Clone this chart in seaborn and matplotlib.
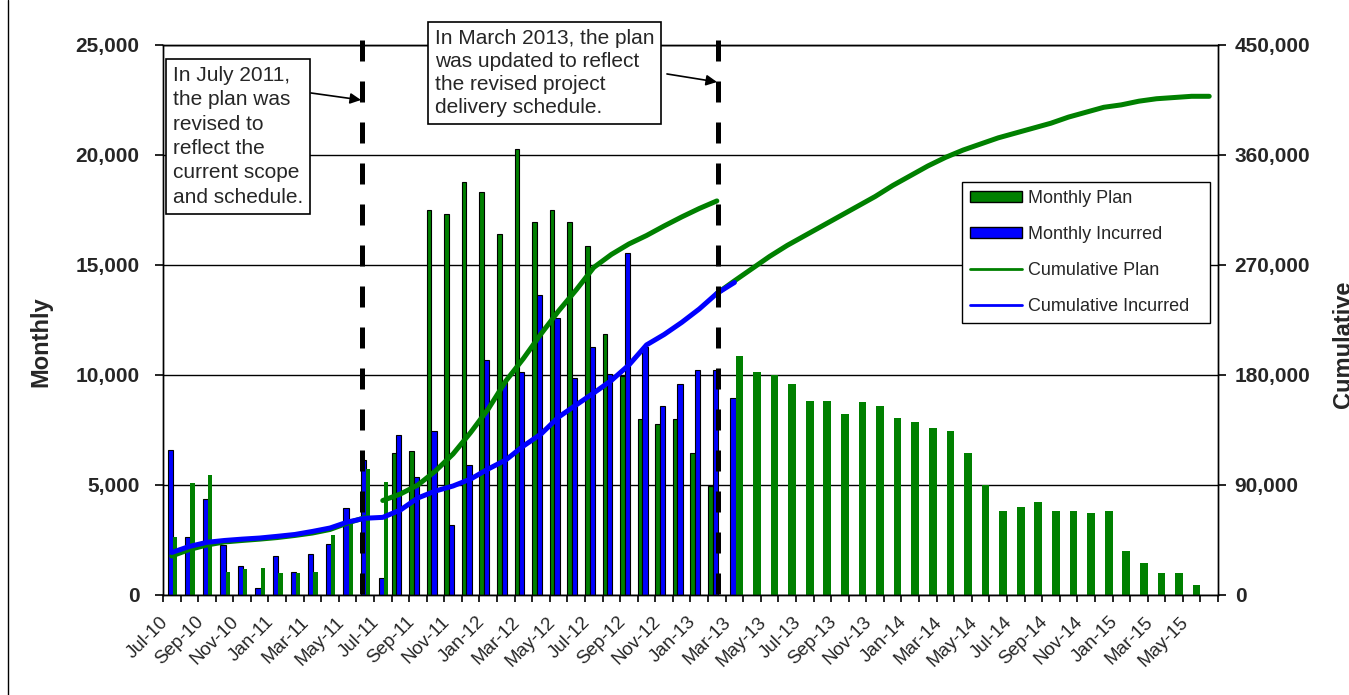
import numpy as np
import pandas as pd
import matplotlib.pyplot as plt
import matplotlib.transforms as mtransforms
import seaborn as sns
from matplotlib.lines import Line2D
from matplotlib.patches import Patch

sns.set_style("white")
plt.rcParams["font.family"] = ["Liberation Sans", "DejaVu Sans"]

# --- data ---
months = pd.date_range("2010-07-01", "2015-06-01", freq="MS").strftime("%b-%y").tolist()

# monthly values
plan_original = [2640, 5090, 5450, 1060, 1170, 1240, 980, 980, 1060, 2730, 3300, 5710, 5150]  # Jul-10 .. Jul-11
plan_revised = [6450, 6530, 17490, 17320, 18790, 18330, 16400, 20250, 16940, 17490,
                16940, 15840, 11870, 9960, 8020, 7750, 8020, 6450, 4970]  # Aug-11 .. Feb-13
plan_current = [10860, 10120, 10000, 9575, 8830, 8830, 8210, 8760, 8575, 8030, 7850, 7575, 7470,
                6470, 5000, 3840, 4020, 4210, 3840, 3840, 3730, 3840, 2000, 1450, 990, 990, 460]  # Mar-13 .. May-15
incurred = [6590, 2640, 4360, 2270, 1320, 320, 1770, 1030, 1860, 2320, 3970, 6140, 760,
            7290, 5380, 7440, 3200, 5910, 10680, 9700, 10140, 13630, 12600, 9880, 11260,
            10040, 15530, 11260, 8590, 9580, 10240, 10240, 8970]  # Jul-10 .. Mar-13

# cumulative values
cum_plan_original = [31900, 37200, 40900, 43400, 44600, 45700, 47000, 48700, 50700, 53600,
                     58900, 63400]  # Jul-10 .. Jun-11
cum_plan_revised = [77300, 82600, 90000, 101500, 115400, 133000, 152200, 175100, 193500, 213600,
                    232400, 249600, 268000, 278600, 287200, 294100, 301900, 309300, 316200, 322400]  # Jul-11 .. Feb-13
cum_plan_current = [246700, 257000, 267000, 277000, 286000, 294000, 302000, 310000, 318000, 326000,
                    335000, 343000, 351000, 358000, 364000, 369000, 374000, 378000, 382000, 386000,
                    391000, 395000, 399000, 401000, 404000, 406000, 407000, 408000, 408000]  # Feb-13 .. Jun-15
cum_incurred = [34800, 39700, 43100, 44600, 45700, 46600, 48000, 49500, 52000, 54800, 59700,
                62800, 63500, 69500, 79400, 85100, 89200, 94900, 103100, 110500, 121900, 131700,
                145600, 155500, 165300, 175500, 188200, 204600, 213100, 223000, 234000, 246700,
                255700]  # Jul-10 .. Mar-13

GREEN = "#008000"
BLUE = "#0000FF"

fig = plt.figure(figsize=(13.49, 6.95), dpi=100)
ax = fig.add_axes([0.1208, 0.1439, 0.7821, 0.7914])
ax2 = ax.twinx()

# --- monthly bars (offset / width inside each month slot) ---
bar_series = [
    (plan_revised, "Aug-11", -0.37, 0.26, GREEN, 0.8),
    (incurred, "Jul-10", -0.09, 0.30, BLUE, 0.8),
    (plan_original, "Jul-10", 0.18, 0.24, GREEN, 0),
    (plan_current, "Mar-13", 0.28, 0.44, GREEN, 0),
]
for vals, start, off, w, col, lw in bar_series:
    i0 = months.index(start)
    pos = np.arange(i0, i0 + len(vals)) + off
    sns.barplot(x=pos, y=vals, native_scale=True, orient="x", width=w, color=col,
                edgecolor="black", linewidth=lw, saturation=1, errorbar=None, ax=ax)

# --- cumulative lines ---
line_series = [
    (cum_plan_original, "Jul-10", GREEN),
    (cum_plan_revised, "Jul-11", GREEN),
    (cum_plan_current, "Feb-13", GREEN),
    (cum_incurred, "Jul-10", BLUE),
]
for vals, start, col in line_series:
    i0 = months.index(start)
    pos = np.arange(i0, i0 + len(vals))
    sns.lineplot(x=pos, y=vals, color=col, linewidth=3.6, estimator=None,
                 solid_capstyle="round", ax=ax2)

# --- axes ---
ax.set_xlim(-0.5, len(months) - 0.5)
ax.set_ylim(0, 25000)
ax2.set_ylim(0, 450000)

left_ticks = np.arange(0, 25001, 5000)
right_ticks = np.arange(0, 450001, 90000)
ax.set_yticks(left_ticks, labels=[f"{v:,}" for v in left_ticks], fontsize=15, fontweight="bold")
ax2.set_yticks(right_ticks, labels=[f"{v:,}" for v in right_ticks], fontsize=15, fontweight="bold")

ax.set_xticks(np.arange(-0.5, len(months), 1), labels=[])
ax.set_xticks(np.arange(0, len(months), 2), labels=months[::2], minor=True,
              rotation=45, ha="right", va="bottom", rotation_mode="anchor", fontsize=13.5)
ax.tick_params(axis="x", which="major", bottom=True, length=5, width=1.2, color="black")
ax.tick_params(axis="x", which="minor", bottom=True, length=0, pad=22)
ax.tick_params(axis="y", left=True, length=6, width=1.2, color="black", pad=11)
ax2.tick_params(axis="y", right=True, length=6, width=1.2, color="black", pad=6)

ax.grid(axis="y", color="black", linewidth=1.0)
ax.set_axisbelow(True)
for a in (ax, ax2):
    for s in a.spines.values():
        s.set_color("black")
        s.set_linewidth(1.0)

ax.set_ylabel("Monthly", fontsize=17, fontweight="bold")
ax2.set_ylabel("Cumulative", fontsize=17, fontweight="bold")
ax.yaxis.set_label_coords(-0.105, 0.46)
ax2.yaxis.set_label_coords(1.108, 0.455)
ax.set_xlabel("")

# --- revision markers ---
trans = mtransforms.blended_transform_factory(ax2.transData, ax2.transAxes)
for xm in (10.82, 31.07):
    ax2.plot([xm, xm], [1.009, -0.027], transform=trans, color="black", linewidth=3.6,
             linestyle=(0, (4.2, 4.0)), clip_on=False, zorder=6)

box = dict(boxstyle="square,pad=0.33", fc="white", ec="black", lw=1.2)
ax2.text(0.0095, 0.962, "In July 2011,\nthe plan was\nrevised to\nreflect the\ncurrent scope\nand schedule.",
         transform=ax2.transAxes, ha="left", va="top", fontsize=15, linespacing=1.36,
         bbox=box, zorder=7)
ax2.text(0.2578, 1.029, "In March 2013, the plan\nwas updated to reflect\nthe revised project\ndelivery schedule.",
         transform=ax2.transAxes, ha="left", va="top", fontsize=15, linespacing=1.26,
         bbox=box, zorder=7)
arrow = dict(arrowstyle="-|>", color="black", lw=1.2, mutation_scale=16, shrinkA=0, shrinkB=0)
ax2.annotate("", xy=(0.1877, 0.900), xytext=(0.1403, 0.9127), xycoords="axes fraction",
             textcoords="axes fraction", arrowprops=arrow, zorder=7)
ax2.annotate("", xy=(0.5251, 0.9327), xytext=(0.4777, 0.9473), xycoords="axes fraction",
             textcoords="axes fraction", arrowprops=arrow, zorder=7)

# --- legend ---
handles = [
    Patch(facecolor=GREEN, edgecolor="black", linewidth=1, label="Monthly Plan"),
    Patch(facecolor=BLUE, edgecolor="black", linewidth=1, label="Monthly Incurred"),
    Line2D([], [], color=GREEN, lw=2, label="Cumulative Plan"),
    Line2D([], [], color=BLUE, lw=2, label="Cumulative Incurred"),
]
leg = ax2.legend(handles=handles, loc="upper left", bbox_to_anchor=(0.757, 0.496, 0.235, 0.255),
                 mode="expand", fontsize=13, frameon=True, fancybox=False, framealpha=1,
                 edgecolor="black", handlelength=2.9, handleheight=0.5, labelspacing=1.05,
                 borderaxespad=0, borderpad=0.45, handletextpad=0.3)
leg.get_frame().set_linewidth(1.0)
leg.set_zorder(8)

fig.add_artist(Line2D([8 / 1349, 8 / 1349], [0, 1], transform=fig.transFigure, color="black", lw=1))

fig.savefig("out.png", dpi=100)
plt.close(fig)
